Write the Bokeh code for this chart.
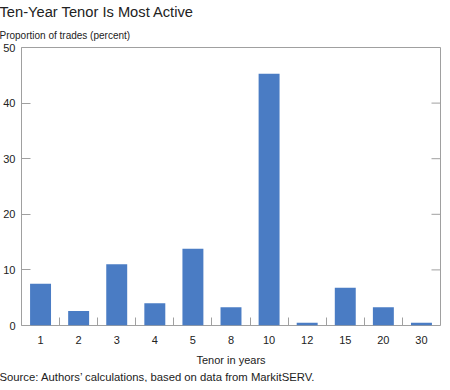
import math
from bokeh.plotting import figure
from bokeh.models import FixedTicker, Range1d, Title, ColumnDataSource
from bokeh.embed import file_html
from bokeh.resources import INLINE

tenors = ["1", "2", "3", "4", "5", "8", "10", "12", "15", "20", "30"]
shares = [7.5, 2.6, 11.0, 4.0, 13.8, 3.3, 45.3, 0.5, 6.8, 3.3, 0.5]
y_ticks = [0, 10, 20, 30, 40, 50]

FONT = "Liberation Sans"
GRAY = "#a0a0a0"
TXT = "#222222"

idx = list(range(len(tenors)))
src = ColumnDataSource(dict(x=idx, top=shares))
x_lo, x_hi = -0.5, len(tenors) - 0.5

p = figure(width=442, height=382, output_backend="svg", toolbar_location=None,
           x_range=Range1d(x_lo, x_hi), y_range=Range1d(0, 50),
           min_border_left=0, min_border_right=2, min_border_top=0, min_border_bottom=0,
           title="Ten-Year Tenor Is Most Active")
p.background_fill_color = "white"
p.border_fill_color = "white"
p.outline_line_color = GRAY
p.outline_line_width = 1
p.grid.visible = False

p.vbar(x="x", top="top", width=0.55, bottom=0, source=src,
       fill_color="#4a7cc4", line_color=None)

# inner tick marks on the right frame edge, at the y-axis tick values
p.ray(x=[x_hi] * len(y_ticks), y=y_ticks, length=9, length_units="screen",
      angle=math.pi, line_color=GRAY, line_width=1)

# main title
p.title.text_font = FONT
p.title.text_font_size = "14.7px"
p.title.text_font_style = "normal"
p.title.text_color = TXT
p.title.align = "left"
p.title.offset = -22
p.title.standoff = 3

sub = Title(text="Proportion of trades (percent)", align="left", offset=-22,
            text_font=FONT, text_font_size="10px", text_font_style="normal",
            text_color=TXT, standoff=13)
p.add_layout(sub, "above")

src_title = Title(text="Source: Authors\u2019 calculations, based on data from MarkitSERV.",
                  align="left", offset=-22, text_font=FONT, text_font_size="11.3px",
                  text_font_style="normal", text_color=TXT, standoff=0)
p.add_layout(src_title, "below")

# y axis
ya = p.yaxis[0]
ya.ticker = FixedTicker(ticks=y_ticks)
ya.axis_line_color = None
ya.major_tick_in = 9
ya.major_tick_out = 0
ya.major_tick_line_color = GRAY
ya.minor_tick_line_color = None
ya.major_label_text_font = FONT
ya.major_label_text_font_size = "11px"
ya.major_label_text_color = TXT
ya.major_label_standoff = 6

# x axis
xa = p.xaxis[0]
xa.ticker = FixedTicker(ticks=idx, minor_ticks=[i + 0.5 for i in idx[:-1]])
xa.major_label_overrides = {i: t for i, t in zip(idx, tenors)}
xa.axis_line_color = None
xa.major_tick_line_color = None
xa.major_tick_in = 0
xa.major_tick_out = 0
xa.minor_tick_in = 8
xa.minor_tick_out = 0
xa.minor_tick_line_color = GRAY
xa.major_label_text_font = FONT
xa.major_label_text_font_size = "11px"
xa.major_label_text_color = TXT
xa.major_label_standoff = 10
xa.axis_label = "Tenor in years"
xa.axis_label_text_font = FONT
xa.axis_label_text_font_size = "11px"
xa.axis_label_text_font_style = "normal"
xa.axis_label_text_color = TXT
xa.axis_label_standoff = 7

open("out.html", "w").write(file_html(p, INLINE))
